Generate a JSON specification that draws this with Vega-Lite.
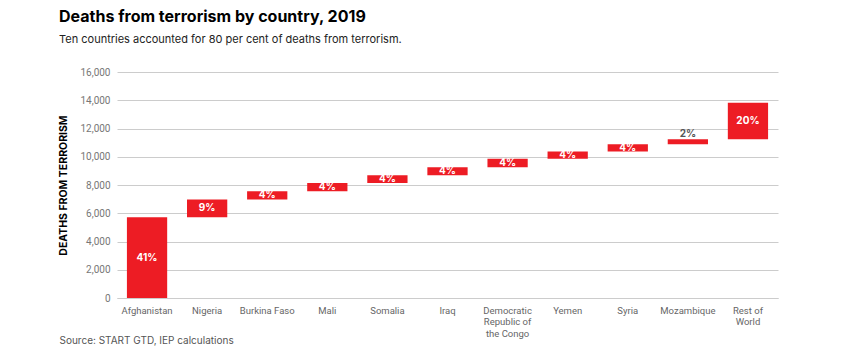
{
  "$schema": "https://vega.github.io/schema/vega-lite/v6.json",
  "width": 661,
  "height": 226,
  "autosize": {"type": "none"},
  "padding": {"left": 117, "top": 72, "right": 74, "bottom": 63},
  "background": "white",
  "title": {
    "text": "Deaths from terrorism by country, 2019",
    "subtitle": "Ten countries accounted for 80 per cent of deaths from terrorism.",
    "anchor": "start",
    "frame": "group",
    "dx": -58,
    "offset": 22,
    "font": "Inter",
    "fontSize": 16,
    "fontWeight": "bold",
    "color": "#000000",
    "subtitleFont": "Inter",
    "subtitleFontSize": 11,
    "subtitleColor": "#222222",
    "subtitlePadding": 9
  },
  "data": {
    "values": [
      {"country": "Afghanistan", "start": 0, "end": 5725, "pct": "41%"},
      {"country": "Nigeria", "start": 5725, "end": 6970, "pct": "9%"},
      {"country": "Burkina Faso", "start": 6970, "end": 7563, "pct": "4%"},
      {"country": "Mali", "start": 7563, "end": 8150, "pct": "4%"},
      {"country": "Somalia", "start": 8150, "end": 8690, "pct": "4%"},
      {"country": "Iraq", "start": 8690, "end": 9250, "pct": "4%"},
      {"country": "Democratic Republic of the Congo", "start": 9250, "end": 9860, "pct": "4%"},
      {"country": "Yemen", "start": 9860, "end": 10375, "pct": "4%"},
      {"country": "Syria", "start": 10375, "end": 10890, "pct": "4%"},
      {"country": "Mozambique", "start": 10890, "end": 11240, "pct": "2%"},
      {"country": "Rest of World", "start": 11240, "end": 13830, "pct": "20%"}
    ]
  },
  "encoding": {
    "x": {
      "field": "country",
      "type": "nominal",
      "sort": ["Afghanistan", "Nigeria", "Burkina Faso", "Mali", "Somalia", "Iraq", "Democratic Republic of the Congo", "Yemen", "Syria", "Mozambique", "Rest of World"],
      "scale": {"paddingInner": 0.33, "paddingOuter": 0.165},
      "axis": {
        "title": "Source: START GTD, IEP calculations",
        "titleX": -58,
        "titleY": 45,
        "titleAlign": "left",
        "titleAnchor": null,
        "titleBaseline": "alphabetic",
        "titleFont": "Inter",
        "titleFontSize": 10,
        "titleFontWeight": "normal",
        "titleColor": "#555555",
        "labelAngle": 0,
        "labelFont": "Roboto",
        "labelFontSize": 9.5,
        "labelColor": "#666666",
        "labelPadding": 7,
        "labelLineHeight": 11.7,
        "labelOverlap": false,
        "labelExpr": "datum.value == 'Democratic Republic of the Congo' ? ['Democratic', 'Republic of', 'the Congo'] : datum.value == 'Rest of World' ? ['Rest of', 'World'] : datum.label",
        "ticks": false,
        "domain": true,
        "domainColor": "#cccccc",
        "domainWidth": 1
      }
    }
  },
  "layer": [
    {
      "mark": {"type": "bar", "color": "#ED1C24"},
      "encoding": {
        "y": {
          "field": "start",
          "type": "quantitative",
          "scale": {"domain": [0, 16000]},
          "axis": {
            "title": "DEATHS FROM TERRORISM",
            "titleFont": "Inter",
            "titleFontSize": 10.5,
            "titleFontWeight": "bold",
            "titleColor": "#000000",
            "titlePadding": 11,
            "values": [0, 2000, 4000, 6000, 8000, 10000, 12000, 14000, 16000],
            "format": ",d",
            "labelOverlap": false,
            "labelFont": "Roboto",
            "labelFontSize": 10,
            "labelColor": "#777777",
            "labelPadding": 7,
            "ticks": false,
            "domain": false,
            "grid": true,
            "gridColor": "#cccccc",
            "gridWidth": 1
          }
        },
        "y2": {"field": "end"}
      }
    },
    {
      "transform": [
        {"filter": "datum.country != 'Mozambique'"},
        {"fold": ["start", "end"]},
        {"aggregate": [{"op": "mean", "field": "value", "as": "mid"}], "groupby": ["country", "pct"]}
      ],
      "mark": {"type": "text", "color": "white", "font": "Inter", "fontWeight": "bold", "fontSize": 10, "baseline": "middle"},
      "encoding": {
        "y": {
          "field": "mid",
          "type": "quantitative",
          "axis": {
            "title": "DEATHS FROM TERRORISM",
            "titleFont": "Inter",
            "titleFontSize": 10.5,
            "titleFontWeight": "bold",
            "titleColor": "#000000",
            "titlePadding": 11,
            "values": [0, 2000, 4000, 6000, 8000, 10000, 12000, 14000, 16000],
            "format": ",d",
            "labelOverlap": false,
            "labelFont": "Roboto",
            "labelFontSize": 10,
            "labelColor": "#777777",
            "labelPadding": 7,
            "ticks": false,
            "domain": false,
            "grid": true,
            "gridColor": "#cccccc",
            "gridWidth": 1
          }
        },
        "text": {"field": "pct"}
      }
    },
    {
      "transform": [{"filter": "datum.country == 'Mozambique'"}],
      "mark": {"type": "text", "color": "#555555", "font": "Inter", "fontWeight": "bold", "fontSize": 10, "baseline": "bottom", "dy": 0},
      "encoding": {
        "y": {
          "field": "end",
          "type": "quantitative",
          "axis": {
            "title": "DEATHS FROM TERRORISM",
            "titleFont": "Inter",
            "titleFontSize": 10.5,
            "titleFontWeight": "bold",
            "titleColor": "#000000",
            "titlePadding": 11,
            "values": [0, 2000, 4000, 6000, 8000, 10000, 12000, 14000, 16000],
            "format": ",d",
            "labelOverlap": false,
            "labelFont": "Roboto",
            "labelFontSize": 10,
            "labelColor": "#777777",
            "labelPadding": 7,
            "ticks": false,
            "domain": false,
            "grid": true,
            "gridColor": "#cccccc",
            "gridWidth": 1
          }
        },
        "text": {"field": "pct"}
      }
    }
  ],
  "config": {"view": {"stroke": null}}
}
